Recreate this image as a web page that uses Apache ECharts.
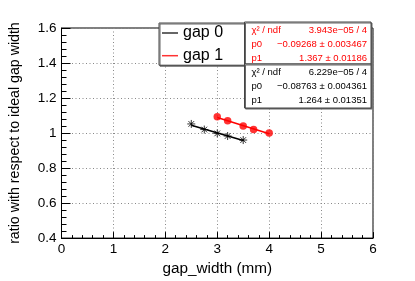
<!DOCTYPE html>
<html>
<head>
<meta charset="utf-8">
<script src="https://cdn.jsdelivr.net/npm/echarts@6/dist/echarts.min.js"></script>
<style>html,body{margin:0;padding:0;background:#fff}#c{width:415px;height:281px}</style>
</head>
<body>
<div id="c"></div>
<script>
// ---- data ----
var gap0X = [2.5, 2.75, 3.0, 3.2, 3.5];
var gap0Y = [1.052, 1.020, 0.998, 0.983, 0.960];
var gap1X = [3.0, 3.2, 3.5, 3.7, 4.0];
var gap1Y = [1.093, 1.070, 1.040, 1.020, 1.000];
var fit0X = [2.5, 3.5];
var fit0Y = [1.045, 0.957];
var fit1X = [3.0, 4.0];
var fit1Y = [1.089, 0.996];
var seriesNames = ['gap 0', 'gap 1'];
var stats1 = [['\u03c7\u00b2 / ndf', '3.943e\u221205 / 4'], ['p0', '\u22120.09268 \u00b1 0.003467'], ['p1', '1.367 \u00b1 0.01186']];
var stats0 = [['\u03c7\u00b2 / ndf', '6.229e\u221205 / 4'], ['p0', '\u22120.08763 \u00b1 0.004361'], ['p1', '1.264 \u00b1 0.01351']];
var xTitle = 'gap_width (mm)';
var yTitle = 'ratio with respect to ideal gap width';

function pairs(xs, ys) { return xs.map(function (x, i) { return [x, ys[i]]; }); }

var FONT = 'Liberation Sans, Arial, Helvetica, sans-serif';
var starPath = 'path://M0,-10L0,10M-10,0L10,0M-7.07,-7.07L7.07,7.07M-7.07,7.07L7.07,-7.07';

function statsElems(rows, x, y, w, h, color) {
  var els = [{
    type: 'rect', z: 100, shape: { x: x, y: y, width: w, height: h },
    style: { fill: '#fff', stroke: '#444', lineWidth: 1, shadowColor: '#666', shadowOffsetX: 1, shadowOffsetY: 1, shadowBlur: 0 }
  }];
  rows.forEach(function (r, i) {
    var cy = y + 8.5 + i * 14;
    els.push({ type: 'text', z: 101, x: x + 7, y: cy, style: { text: r[0], fill: color, font: '9.5px ' + FONT, verticalAlign: 'middle', align: 'left' } });
    els.push({ type: 'text', z: 101, x: x + w - 4, y: cy, style: { text: r[1], fill: color, font: '9.5px ' + FONT, verticalAlign: 'middle', align: 'right' } });
  });
  return els;
}

var chart = echarts.init(document.getElementById('c'), null, { renderer: 'canvas' });
chart.setOption({
  animation: false,
  backgroundColor: '#fff',
  grid: { left: 58, right: 42, top: 28, bottom: 37.5, show: true, borderColor: '#000', borderWidth: 1, backgroundColor: 'transparent' },
  xAxis: {
    type: 'value', min: 0, max: 6, interval: 1,
    name: xTitle, nameLocation: 'middle', nameGap: 18,
    nameTextStyle: { fontFamily: FONT, fontSize: 15.3, color: '#000' },
    axisLine: { show: true, onZero: false, lineStyle: { color: '#000', width: 1 } },
    axisTick: { show: true, inside: true, length: 6, lineStyle: { color: '#000' } },
    minorTick: { show: true, splitNumber: 5, length: 3, lineStyle: { color: '#000' } },
    axisLabel: { fontFamily: FONT, fontSize: 13.5, color: '#000', margin: 4 },
    splitLine: { show: true, lineStyle: { color: '#888', type: [1, 2.5], width: 1 } }
  },
  yAxis: {
    type: 'value', min: 0.4, max: 1.6, interval: 0.2,
    name: yTitle, nameLocation: 'middle', nameGap: 39.5, nameRotate: 90,
    nameTextStyle: { fontFamily: FONT, fontSize: 14.2, color: '#000' },
    axisLine: { show: true, onZero: false, lineStyle: { color: '#000', width: 1 } },
    axisTick: { show: true, inside: true, length: 9, lineStyle: { color: '#000' } },
    minorTick: { show: true, splitNumber: 5, length: 5, lineStyle: { color: '#000' } },
    axisLabel: { fontFamily: FONT, fontSize: 13.5, color: '#000', margin: 5 },
    splitLine: { show: true, lineStyle: { color: '#888', type: [1, 2.5], width: 1 } }
  },
  legend: {
    orient: 'vertical', left: 159, top: 23,
    data: [
      { name: seriesNames[0], icon: 'rect', itemStyle: { color: '#000', borderWidth: 0 } },
      { name: seriesNames[1], icon: 'rect', itemStyle: { color: '#ff0000', borderWidth: 0 } }
    ],
    itemWidth: 16, itemHeight: 1.5, itemGap: 6.7,
    padding: [2, 24, 1.5, 3],
    backgroundColor: '#fff', borderColor: '#444', borderWidth: 1,
    shadowColor: '#666', shadowOffsetX: 1, shadowOffsetY: 1, shadowBlur: 0,
    textStyle: { fontFamily: FONT, fontSize: 16, color: '#000', lineHeight: 16 },
    selectedMode: false, z: 50
  },
  series: [
    { name: seriesNames[0] + ' fit', type: 'line', data: pairs(fit0X, fit0Y), showSymbol: false, symbol: 'none',
      lineStyle: { color: '#000', width: 1.5 }, z: 2 },
    { name: seriesNames[1] + ' fit', type: 'line', data: pairs(fit1X, fit1Y), showSymbol: false, symbol: 'none',
      lineStyle: { color: '#ff0000', width: 1.5 }, z: 2 },
    { name: seriesNames[0], type: 'scatter', data: pairs(gap0X, gap0Y), symbol: starPath, symbolSize: 8,
      itemStyle: { color: 'none', borderColor: '#000', borderWidth: 1 }, z: 3 },
    { name: seriesNames[1], type: 'scatter', data: pairs(gap1X, gap1Y), symbol: 'circle', symbolSize: 7.5,
      itemStyle: { color: '#ff0000' }, z: 3 }
  ],
  graphic: statsElems(stats1, 244.5, 22, 126.5, 42, '#ff0000').concat(statsElems(stats0, 244.5, 64, 126.5, 44, '#000'))
});
</script>
</body>
</html>
